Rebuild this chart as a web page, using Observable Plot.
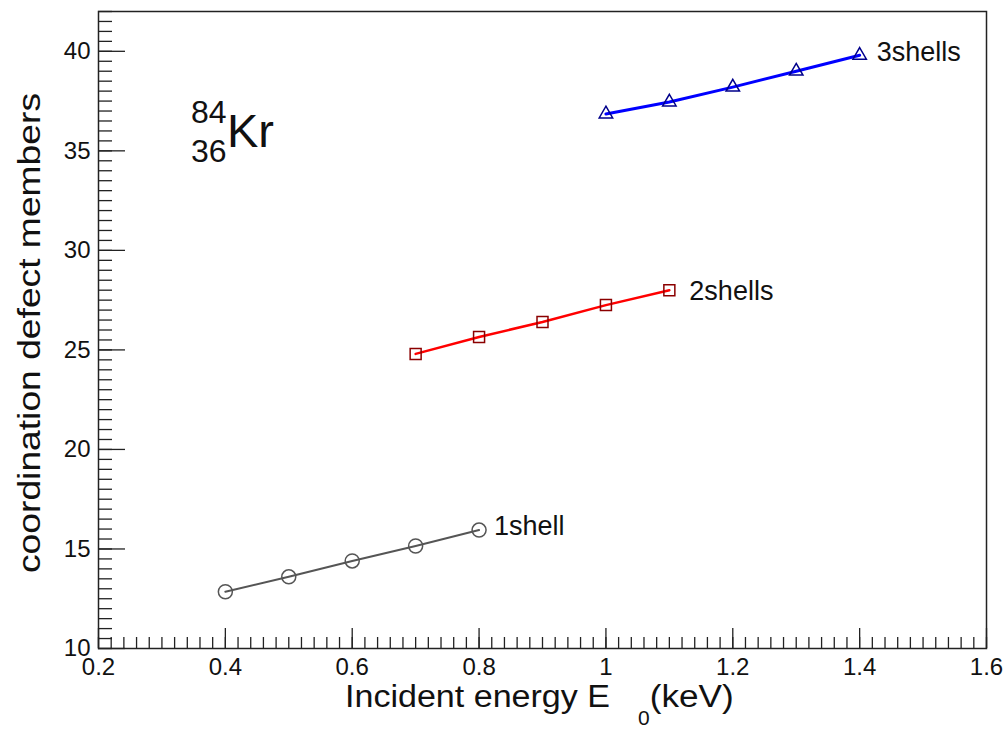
<!DOCTYPE html>
<html>
<head>
<meta charset="utf-8">
<script src="https://cdn.jsdelivr.net/npm/d3@7"></script>
<script src="https://cdn.jsdelivr.net/npm/@observablehq/plot@0.6"></script>
<style>
  body { margin: 0; background: #fff; }
  #chart svg { display: block; }
</style>
</head>
<body>
<div id="chart"></div>
<script>
// ---- data ----
const seriesNames = ["1shell", "2shells", "3shells"];
const energy1 = [0.4, 0.5, 0.6, 0.7, 0.8];
const defects1 = [12.85, 13.6, 14.4, 15.15, 15.95];
const energy2 = [0.7, 0.8, 0.9, 1.0, 1.1];
const defects2 = [24.8, 25.65, 26.4, 27.25, 28.0];
const energy3 = [1.0, 1.1, 1.2, 1.3, 1.4];
const defects3 = [36.85, 37.45, 38.2, 39.0, 39.8];

const xMajorTicks = [0.2, 0.4, 0.6, 0.8, 1.0, 1.2, 1.4, 1.6];
const xTickLabels = ["0.2", "0.4", "0.6", "0.8", "1", "1.2", "1.4", "1.6"];
const yMajorTicks = [10, 15, 20, 25, 30, 35, 40];
const yTickLabels = ["10", "15", "20", "25", "30", "35", "40"];
const xMinorTicks = d3.range(0, 71).map(i => +(0.2 + i * 0.02).toFixed(2));
const yMinorTicks = d3.range(0, 65).map(i => 10 + i * 0.5);

// ---- styles ----
const W = 1008, H = 731;
const mL = 98, mR = 22, mT = 11, mB = 83;
const plotW = W - mL - mR, plotH = H - mT - mB;
const font = "'Liberation Sans', Arial, Helvetica, sans-serif";
const styles = {
  "1shell":  {line: "#555555", mark: "#555555", symbol: "circle",   r: 7,   lw: 2,   dx: 15, dy: -4},
  "2shells": {line: "#ff0000", mark: "#8b0000", symbol: "square",   r: 6.2, lw: 2.5, dx: 20, dy: 1},
  "3shells": {line: "#0000ff", mark: "#00008b", symbol: "triangle", r: 5,   lw: 3,   dx: 17, dy: -3}
};

const seriesData = [
  {name: seriesNames[0], x: energy1, y: defects1},
  {name: seriesNames[1], x: energy2, y: defects2},
  {name: seriesNames[2], x: energy3, y: defects3}
].map(s => ({name: s.name, rows: s.x.map((x, i) => ({x, y: s.y[i], series: s.name}))}));

const marks = [
  Plot.tickX(xMinorTicks, {x: d => d, insetTop: plotH - 11, stroke: "#222", strokeWidth: 1.3}),
  Plot.tickX(xMajorTicks, {x: d => d, insetTop: plotH - 20, stroke: "#222", strokeWidth: 1.3}),
  Plot.tickY(yMinorTicks, {y: d => d, insetRight: plotW - 14, stroke: "#222", strokeWidth: 1.3}),
  Plot.tickY(yMajorTicks, {y: d => d, insetRight: plotW - 27, stroke: "#222", strokeWidth: 1.3}),
  Plot.frame({stroke: "#222", strokeWidth: 1.5}),
  Plot.axisX({ticks: xMajorTicks, tickSize: 0, tickPadding: 9, label: null,
    tickFormat: d => xTickLabels[xMajorTicks.indexOf(d)], fontSize: 24, fill: "#111"}),
  Plot.axisY({ticks: yMajorTicks, tickSize: 0, tickPadding: 8, label: null,
    tickFormat: d => yTickLabels[yMajorTicks.indexOf(d)], fontSize: 24, fill: "#111"})
];

for (const s of seriesData) {
  const st = styles[s.name];
  marks.push(Plot.line(s.rows, {x: "x", y: "y", stroke: st.line, strokeWidth: st.lw}));
  marks.push(Plot.dot(s.rows, {x: "x", y: "y", symbol: st.symbol, r: st.r, stroke: st.mark, strokeWidth: 1.5, fill: "none"}));
  marks.push(Plot.text([s.rows[s.rows.length - 1]], {x: "x", y: "y", text: "series",
    textAnchor: "start", dx: st.dx, dy: st.dy, fontSize: 27, fill: "#111"}));
}

const chart = Plot.plot({
  width: W, height: H,
  marginLeft: mL, marginRight: mR, marginTop: mT, marginBottom: mB,
  x: {domain: [0.2, 1.6]},
  y: {domain: [10, 42]},
  style: {fontFamily: font, fontSize: "24px", background: "#fff", color: "#111"},
  marks
});

const svg = d3.select(chart);

// axis titles
svg.append("text")
  .attr("transform", "translate(40,333) rotate(-90)")
  .attr("text-anchor", "middle")
  .attr("font-size", 31)
  .attr("fill", "#111")
  .attr("textLength", 480)
  .attr("lengthAdjust", "spacingAndGlyphs")
  .text("coordination defect members");

const xt = svg.append("text")
  .attr("x", 345).attr("y", 707)
  .attr("text-anchor", "start")
  .attr("font-size", 31)
  .attr("fill", "#111");
xt.append("tspan").attr("textLength", 265).attr("lengthAdjust", "spacingAndGlyphs").text("Incident energy E");
xt.append("tspan").attr("dx", 28).attr("dy", 18).attr("font-size", 21).text("0");
xt.append("tspan").attr("dy", -18).attr("textLength", 84).attr("lengthAdjust", "spacingAndGlyphs").text("(keV)");

// nuclide annotation
const ann = svg.append("g").attr("text-anchor", "start").attr("fill", "#111");
ann.append("text").attr("x", 191).attr("y", 123).attr("font-size", 32).text("84");
ann.append("text").attr("x", 191).attr("y", 162).attr("font-size", 32).text("36");
ann.append("text").attr("x", 227).attr("y", 147).attr("font-size", 47).text("Kr");

document.getElementById("chart").append(chart);
</script>
</body>
</html>
